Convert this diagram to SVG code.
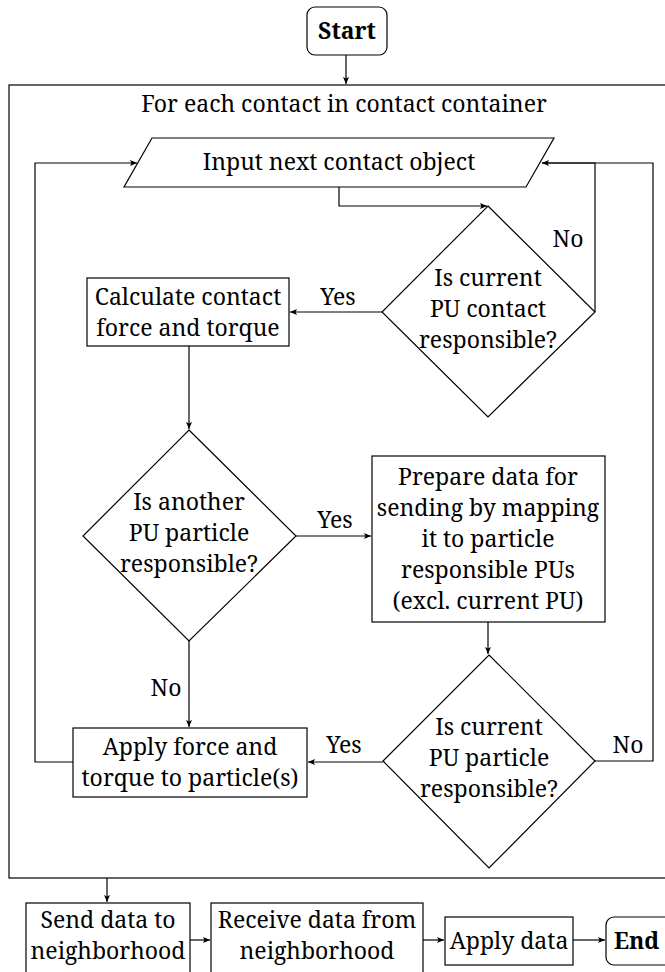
<svg xmlns="http://www.w3.org/2000/svg" width="665" height="972" viewBox="0 0 665 972">
<style>
.s{fill:#fff;stroke:#000;stroke-width:1.2}
.c{fill:none;stroke:#000;stroke-width:1.2}
.t{font-family:'Noto Serif','Liberation Serif',serif;font-size:23px;fill:#000;text-anchor:middle}
.b{font-weight:bold}
</style>
<defs>
<marker id="a" markerWidth="8" markerHeight="6" refX="7" refY="3" orient="auto" markerUnits="userSpaceOnUse">
<path d="M0,0 L7,3 L0,6 L1.5,3 Z" fill="#000"/>
</marker>
</defs>
<rect width="665" height="972" fill="#fff"/>
<g class="t" font-family="Noto Serif, Liberation Serif, serif" font-size="23" text-anchor="middle">
<g id="container">
<rect class="s" x="9" y="85" width="665" height="793"/>
<text x="344" y="112">For each contact in contact container</text>
</g>
<g id="connectors">
<path class="c" d="M346,55 V84" marker-end="url(#a)"/>
<path class="c" d="M339,187 V206 H487" marker-end="url(#a)"/>
<path class="c" d="M595,312 V163 H542" marker-end="url(#a)"/>
<path class="c" d="M595,761 H653 V163 H542"/>
<path class="c" d="M73,762 H35 V163 H137" marker-end="url(#a)"/>
<path class="c" d="M382,312 H290" marker-end="url(#a)"/>
<path class="c" d="M189,346 V429" marker-end="url(#a)"/>
<path class="c" d="M296,536 H371" marker-end="url(#a)"/>
<path class="c" d="M488,622 V654" marker-end="url(#a)"/>
<path class="c" d="M189,641 V727" marker-end="url(#a)"/>
<path class="c" d="M383,762 H308" marker-end="url(#a)"/>
<path class="c" d="M107,878 V902" marker-end="url(#a)"/>
<path class="c" d="M190,940 H210" marker-end="url(#a)"/>
<path class="c" d="M423,940 H444" marker-end="url(#a)"/>
<path class="c" d="M573,940 H605" marker-end="url(#a)"/>
<text x="568" y="247">No</text>
<text x="338" y="305">Yes</text>
<text x="335" y="528">Yes</text>
<text x="166" y="696">No</text>
<text x="344" y="753">Yes</text>
<text x="628" y="753">No</text>
</g>
<g id="start">
<rect class="s" x="307" y="7" width="80" height="48" rx="8"/>
<text class="b" x="347" y="39" font-weight="bold">Start</text>
</g>
<g id="input">
<path class="s" d="M152,138 H554 L526,187 H124 Z"/>
<text x="339" y="170">Input next contact object</text>
</g>
<g id="d1">
<path class="s" d="M488,206 L595,312 L488,417 L382,312 Z"/>
<text x="488" y="286">Is current</text>
<text x="488" y="317">PU contact</text>
<text x="488" y="348">responsible?</text>
</g>
<g id="calc">
<rect class="s" x="87" y="278" width="202" height="68"/>
<text x="188" y="305">Calculate contact</text>
<text x="188" y="336">force and torque</text>
</g>
<g id="d2">
<path class="s" d="M189,430 L296,536 L189,641 L83,536 Z"/>
<text x="189" y="510">Is another</text>
<text x="189" y="541">PU particle</text>
<text x="189" y="572">responsible?</text>
</g>
<g id="prepare">
<rect class="s" x="372" y="456" width="233" height="166"/>
<text x="488" y="485">Prepare data for</text>
<text x="488" y="516">sending by mapping</text>
<text x="488" y="547">it to particle</text>
<text x="488" y="578">responsible PUs</text>
<text x="488" y="609">(excl. current PU)</text>
</g>
<g id="d3">
<path class="s" d="M489,655 L595,761 L489,868 L383,761 Z"/>
<text x="489" y="735">Is current</text>
<text x="489" y="766">PU particle</text>
<text x="489" y="797">responsible?</text>
</g>
<g id="apply">
<rect class="s" x="73" y="728" width="234" height="69"/>
<text x="190" y="755">Apply force and</text>
<text x="190" y="786">torque to particle(s)</text>
</g>
<g id="send">
<rect class="s" x="26" y="903" width="164" height="75"/>
<text x="108" y="928">Send data to</text>
<text x="108" y="959">neighborhood</text>
</g>
<g id="receive">
<rect class="s" x="211" y="903" width="212" height="75"/>
<text x="317" y="928">Receive data from</text>
<text x="317" y="959">neighborhood</text>
</g>
<g id="applydata">
<rect class="s" x="445" y="917" width="128" height="48"/>
<text x="509" y="949">Apply data</text>
</g>
<g id="end">
<rect class="s" x="606" y="917" width="95" height="48" rx="8"/>
<text class="b" x="614" y="949" font-weight="bold" text-anchor="start" style="text-anchor:start">End</text>
</g>
</g>
</svg>
